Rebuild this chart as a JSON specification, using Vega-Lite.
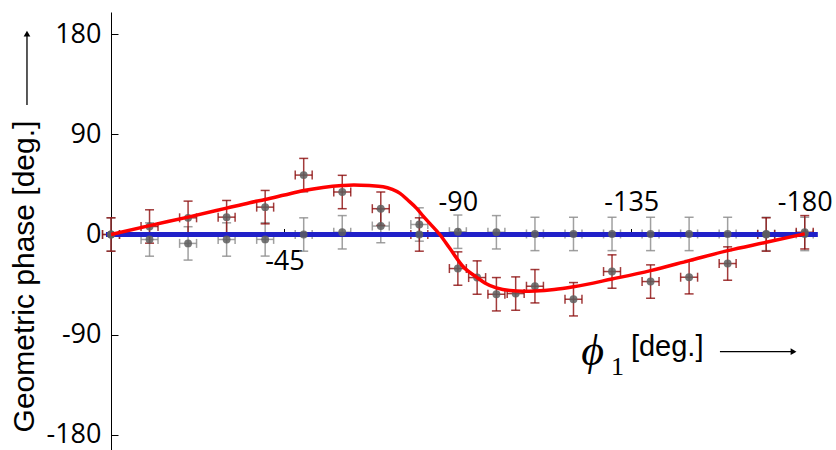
{
  "$schema": "https://vega.github.io/schema/vega-lite/v6.json",
  "width": 713,
  "height": 445,
  "autosize": "none",
  "padding": {"left": 111, "top": 12, "right": 12, "bottom": 0},
  "config": {"view": {"stroke": null}, "axis": {"grid": false}},
  "datasets": {
    "pts": [
      {"s": "A", "x": 0, "y": 0, "xe": 2.2, "ye": 15},
      {"s": "A", "x": -10, "y": 7.2, "xe": 2.2, "ye": 15},
      {"s": "A", "x": -20, "y": 15, "xe": 2.2, "ye": 15},
      {"s": "A", "x": -30, "y": 15.6, "xe": 2.2, "ye": 15},
      {"s": "A", "x": -40, "y": 24.6, "xe": 2.2, "ye": 15},
      {"s": "A", "x": -50, "y": 53.4, "xe": 2.2, "ye": 15},
      {"s": "A", "x": -60, "y": 38.2, "xe": 2.2, "ye": 15},
      {"s": "A", "x": -70, "y": 23.2, "xe": 2.2, "ye": 15},
      {"s": "A", "x": -80, "y": 0, "xe": 2.2, "ye": 15},
      {"s": "A", "x": -90, "y": -30.6, "xe": 2.2, "ye": 15},
      {"s": "A", "x": -95, "y": -38.7, "xe": 2.2, "ye": 15},
      {"s": "A", "x": -100, "y": -53.7, "xe": 2.2, "ye": 15},
      {"s": "A", "x": -105, "y": -53.1, "xe": 2.2, "ye": 15},
      {"s": "A", "x": -110, "y": -46.5, "xe": 2.2, "ye": 15},
      {"s": "A", "x": -120, "y": -58.2, "xe": 2.2, "ye": 15},
      {"s": "A", "x": -130, "y": -33.3, "xe": 2.2, "ye": 15},
      {"s": "A", "x": -140, "y": -42.3, "xe": 2.2, "ye": 15},
      {"s": "A", "x": -150, "y": -38.4, "xe": 2.2, "ye": 15},
      {"s": "A", "x": -160, "y": -26.1, "xe": 2.2, "ye": 15},
      {"s": "A", "x": -170, "y": 0, "xe": 2.2, "ye": 15},
      {"s": "A", "x": -180, "y": 2, "xe": 2.2, "ye": 15},
      {"s": "B", "x": 0, "y": 0, "xe": 2.2, "ye": 15},
      {"s": "B", "x": -10, "y": -4.5, "xe": 2.2, "ye": 15},
      {"s": "B", "x": -20, "y": -8, "xe": 2.2, "ye": 15},
      {"s": "B", "x": -30, "y": -4.5, "xe": 2.2, "ye": 15},
      {"s": "B", "x": -40, "y": -4.4, "xe": 2.2, "ye": 15},
      {"s": "B", "x": -50, "y": 0, "xe": 2.2, "ye": 15},
      {"s": "B", "x": -60, "y": 2, "xe": 2.2, "ye": 15},
      {"s": "B", "x": -70, "y": 7.6, "xe": 2.2, "ye": 15},
      {"s": "B", "x": -80, "y": 9, "xe": 2.2, "ye": 15},
      {"s": "B", "x": -90, "y": 2.5, "xe": 2.2, "ye": 15},
      {"s": "B", "x": -100, "y": 2, "xe": 2.2, "ye": 15},
      {"s": "B", "x": -110, "y": 0.5, "xe": 2.2, "ye": 15},
      {"s": "B", "x": -120, "y": 0.5, "xe": 2.2, "ye": 15},
      {"s": "B", "x": -130, "y": 0.5, "xe": 2.2, "ye": 15},
      {"s": "B", "x": -140, "y": 0.5, "xe": 2.2, "ye": 15},
      {"s": "B", "x": -150, "y": 0.5, "xe": 2.2, "ye": 15},
      {"s": "B", "x": -160, "y": 0.5, "xe": 2.2, "ye": 15},
      {"s": "B", "x": -170, "y": 0.5, "xe": 2.2, "ye": 15},
      {"s": "B", "x": -180, "y": 0.5, "xe": 2.2, "ye": 15}
    ],
    "curve": [
      {"x": 0, "y": 0}, {"x": -10, "y": 8}, {"x": -20, "y": 15.6}, {"x": -30, "y": 23.7},
      {"x": -36, "y": 28.6}, {"x": -40, "y": 31.5}, {"x": -45, "y": 35.5}, {"x": -50, "y": 39.5},
      {"x": -55, "y": 42.3}, {"x": -60, "y": 44}, {"x": -63, "y": 44.5}, {"x": -67, "y": 44},
      {"x": -70.6, "y": 43}, {"x": -73, "y": 40.5}, {"x": -75, "y": 37}, {"x": -77, "y": 31},
      {"x": -79.3, "y": 23.5}, {"x": -81, "y": 16.5}, {"x": -82.7, "y": 10}, {"x": -85.3, "y": 0},
      {"x": -87.9, "y": -12.4}, {"x": -91.4, "y": -29}, {"x": -94.9, "y": -38.5}, {"x": -97, "y": -43.5},
      {"x": -100, "y": -48}, {"x": -103.5, "y": -50.4}, {"x": -107, "y": -51}, {"x": -110, "y": -50.8},
      {"x": -115, "y": -49.5}, {"x": -120, "y": -47}, {"x": -130, "y": -40}, {"x": -140, "y": -32.5},
      {"x": -150, "y": -23.5}, {"x": -160, "y": -14.5}, {"x": -170, "y": -7}, {"x": -180, "y": 0.6}
    ]
  },
  "resolve": {"axis": {"x": "independent", "y": "independent"}},
  "layer": [
    {
      "data": {"name": "pts"},
      "transform": [{"filter": "datum.s === 'B'"}],
      "mark": {"type": "errorbar", "color": "#8f8f8f", "opacity": 0.85, "thickness": 1.5, "ticks": {"size": 9}},
      "encoding": {
        "x": {"field": "x", "type": "quantitative", "scale": {"domain": [0, -185], "nice": false, "zero": false}, "axis": null},
        "y": {"field": "y", "type": "quantitative", "scale": {"domain": [-200, 200], "nice": false, "zero": false}, "axis": null},
        "yError": {"field": "ye"}
      }
    },
    {
      "data": {"name": "pts"},
      "transform": [{"filter": "datum.s === 'B'"}],
      "mark": {"type": "errorbar", "color": "#8f8f8f", "opacity": 0.85, "thickness": 1.5, "ticks": {"size": 9}},
      "encoding": {
        "x": {"field": "x", "type": "quantitative", "scale": {"domain": [0, -185], "nice": false, "zero": false}, "axis": null},
        "xError": {"field": "xe"},
        "y": {"field": "y", "type": "quantitative", "scale": {"domain": [-200, 200], "nice": false, "zero": false}, "axis": null}
      }
    },
    {
      "data": {"name": "pts"},
      "transform": [{"filter": "datum.s === 'A'"}],
      "mark": {"type": "errorbar", "color": "#8b0a0a", "opacity": 0.8, "thickness": 1.5, "ticks": {"size": 9}},
      "encoding": {
        "x": {"field": "x", "type": "quantitative", "scale": {"domain": [0, -185], "nice": false, "zero": false}, "axis": null},
        "y": {"field": "y", "type": "quantitative", "scale": {"domain": [-200, 200], "nice": false, "zero": false}, "axis": null},
        "yError": {"field": "ye"}
      }
    },
    {
      "data": {"name": "pts"},
      "transform": [{"filter": "datum.s === 'A'"}],
      "mark": {"type": "errorbar", "color": "#8b0a0a", "opacity": 0.8, "thickness": 1.5, "ticks": {"size": 9}},
      "encoding": {
        "x": {"field": "x", "type": "quantitative", "scale": {"domain": [0, -185], "nice": false, "zero": false}, "axis": null},
        "xError": {"field": "xe"},
        "y": {"field": "y", "type": "quantitative", "scale": {"domain": [-200, 200], "nice": false, "zero": false}, "axis": null}
      }
    },
    {
      "data": {"values": [{}]},
      "mark": {"type": "rule", "color": "#2020c8", "strokeWidth": 5},
      "encoding": {
        "x": {"datum": 1.3, "type": "quantitative", "scale": {"domain": [0, -185], "nice": false, "zero": false}, "axis": null},
        "x2": {"datum": -183.4},
        "y": {"datum": 0, "type": "quantitative", "scale": {"domain": [-200, 200], "nice": false, "zero": false}, "axis": null}
      }
    },
    {
      "data": {"name": "pts"},
      "mark": {"type": "circle", "color": "#5e5e5e", "opacity": 0.85, "size": 62},
      "encoding": {
        "x": {"field": "x", "type": "quantitative", "scale": {"domain": [0, -185], "nice": false, "zero": false},
          "axis": {"orient": "top", "offset": -222.5, "values": [-45, -90, -135, -180], "labelExpr": "datum.value == -45 ? '' : '' + datum.value",
            "domain": false, "ticks": true, "tickSize": 6, "tickColor": "black", "labelFont": "Open Sans", "labelFontSize": 27, "labelColor": "black",
            "labelPadding": 12, "labelFlush": false, "labelOverlap": false, "title": null}},
        "y": {"field": "y", "type": "quantitative", "scale": {"domain": [-200, 200], "nice": false, "zero": false},
          "axis": {"orient": "left", "values": [-180, -90, 0, 90, 180], "labelExpr": "'' + datum.value", "tickSize": -7, "labelPadding": 17,
            "domainColor": "black", "tickColor": "black", "labelFont": "Open Sans", "labelFontSize": 27, "labelColor": "black", "labelOverlap": false,
            "title": "Geometric phase [deg.]", "titleFont": "Liberation Sans", "titleFontSize": 30, "titleFontWeight": "normal", "titleColor": "black",
            "titleX": -72, "titleY": 264}}
      }
    },
    {
      "data": {"name": "curve"},
      "mark": {"type": "line", "color": "#ff0000", "strokeWidth": 3.5, "interpolate": "monotone"},
      "encoding": {
        "x": {"field": "x", "type": "quantitative", "scale": {"domain": [0, -185], "nice": false, "zero": false},
          "axis": {"orient": "bottom", "offset": -222.5, "values": [-45], "labelExpr": "'' + datum.value", "domain": false, "ticks": false,
            "labelFont": "Open Sans", "labelFontSize": 27, "labelColor": "black", "labelPadding": 14, "labelFlush": false, "title": null}},
        "y": {"field": "y", "type": "quantitative", "scale": {"domain": [-200, 200], "nice": false, "zero": false}, "axis": null}
      }
    },
    {
      "data": {"values": [{}]},
      "mark": {"type": "text", "text": "ϕ", "font": "Liberation Serif", "fontStyle": "italic", "fontSize": 44, "align": "center", "baseline": "middle", "color": "black"},
      "encoding": {
        "x": {"datum": -125, "type": "quantitative", "scale": {"domain": [0, -185], "nice": false, "zero": false}, "axis": null},
        "y": {"datum": -105.6, "type": "quantitative", "scale": {"domain": [-200, 200], "nice": false, "zero": false}, "axis": null}
      }
    },
    {
      "data": {"values": [{}]},
      "mark": {"type": "text", "text": "1", "font": "Liberation Serif", "fontSize": 26, "align": "center", "baseline": "middle", "color": "black"},
      "encoding": {
        "x": {"datum": -131.4, "type": "quantitative", "scale": {"domain": [0, -185], "nice": false, "zero": false}, "axis": null},
        "y": {"datum": -118.7, "type": "quantitative", "scale": {"domain": [-200, 200], "nice": false, "zero": false}, "axis": null}
      }
    },
    {
      "data": {"values": [{}]},
      "mark": {"type": "text", "text": "[deg.]", "font": "Liberation Sans", "fontSize": 29, "align": "left", "baseline": "middle", "color": "black"},
      "encoding": {
        "x": {"datum": -134.9, "type": "quantitative", "scale": {"domain": [0, -185], "nice": false, "zero": false}, "axis": null},
        "y": {"datum": -101.1, "type": "quantitative", "scale": {"domain": [-200, 200], "nice": false, "zero": false}, "axis": null}
      }
    },
    {
      "data": {"values": [{}]},
      "mark": {"type": "rule", "color": "black", "strokeWidth": 1.3},
      "encoding": {
        "x": {"datum": -158, "type": "quantitative", "scale": {"domain": [0, -185], "nice": false, "zero": false}, "axis": null},
        "x2": {"datum": -176.5},
        "y": {"datum": -105.3, "type": "quantitative", "scale": {"domain": [-200, 200], "nice": false, "zero": false}, "axis": null}
      }
    },
    {
      "data": {"values": [{}]},
      "mark": {"type": "point", "shape": "triangle-right", "filled": true, "color": "black", "opacity": 1, "size": 45},
      "encoding": {
        "x": {"datum": -177.1, "type": "quantitative", "scale": {"domain": [0, -185], "nice": false, "zero": false}, "axis": null},
        "y": {"datum": -105.3, "type": "quantitative", "scale": {"domain": [-200, 200], "nice": false, "zero": false}, "axis": null}
      }
    },
    {
      "data": {"values": [{}]},
      "mark": {"type": "rule", "color": "black", "strokeWidth": 1.3},
      "encoding": {
        "x": {"datum": 21.8, "type": "quantitative", "scale": {"domain": [0, -185], "nice": false, "zero": false}, "axis": null},
        "y": {"datum": 116.4, "type": "quantitative", "scale": {"domain": [-200, 200], "nice": false, "zero": false}, "axis": null},
        "y2": {"datum": 179}
      }
    },
    {
      "data": {"values": [{}]},
      "mark": {"type": "point", "shape": "triangle-up", "filled": true, "color": "black", "opacity": 1, "size": 45},
      "encoding": {
        "x": {"datum": 21.8, "type": "quantitative", "scale": {"domain": [0, -185], "nice": false, "zero": false}, "axis": null},
        "y": {"datum": 180.5, "type": "quantitative", "scale": {"domain": [-200, 200], "nice": false, "zero": false}, "axis": null}
      }
    }
  ]
}
